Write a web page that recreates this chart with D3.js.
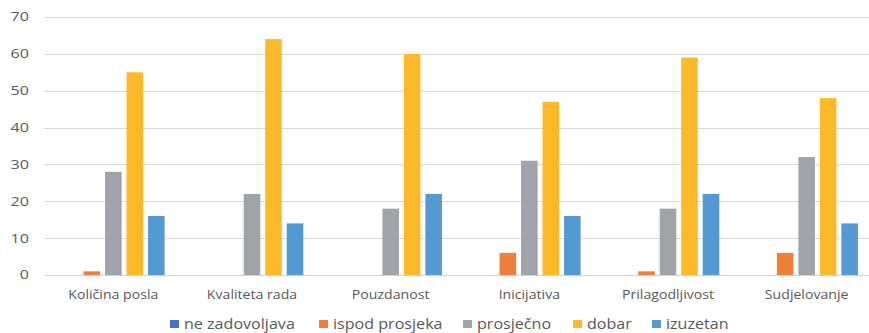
<!DOCTYPE html>
<html>
<head>
<meta charset="utf-8">
<script src="https://cdn.jsdelivr.net/npm/d3@7"></script>
<style>
  html, body { margin: 0; padding: 0; background: #fff; }
  svg { display: block; }
  text { font-family: "Open Sans", "Noto Sans", sans-serif; fill: #595959; }
</style>
</head>
<body>
<svg id="chart" width="869" height="333"></svg>
<script>
// Ocjene po kategorijama
const categories = ["Količina posla", "Kvaliteta rada", "Pouzdanost", "Inicijativa", "Prilagodljivost", "Sudjelovanje"];
const seriesNames = ["ne zadovoljava", "ispod prosjeka", "prosječno", "dobar", "izuzetan"];
const neZadovoljava = [0, 0, 0, 0, 0, 0];
const ispodProsjeka = [1, 0, 0, 6, 1, 6];
const prosjecno = [28, 22, 18, 31, 18, 32];
const dobar = [55, 64, 60, 47, 59, 48];
const izuzetan = [16, 14, 22, 16, 22, 14];
const yTicks = [0, 10, 20, 30, 40, 50, 60, 70];
const colors = ["#4472C4", "#F07F3A", "#A0A3A7", "#FDB92A", "#5499D3"];

const seriesValues = [neZadovoljava, ispodProsjeka, prosjecno, dobar, izuzetan];

// widen text horizontally around its anchor point
function widen(sel, sx) {
  sel.each(function () {
    const t = d3.select(this);
    const ax = +t.attr("x") || 0;
    t.attr("transform", `translate(${ax},0) scale(${sx},1) translate(${-ax},0)`);
  });
}

const svg = d3.select("#chart");
const margin = { left: 44, right: -7, top: 17, bottom: 58 };
const width = 869 - margin.left - margin.right;
const height = 333 - margin.top - margin.bottom;

const g = svg.append("g").attr("transform", `translate(${margin.left},${margin.top})`);

const x0 = d3.scaleBand().domain(categories).range([0, width]).paddingInner(0).paddingOuter(0);
const x1 = d3.scaleBand().domain(seriesNames).range([0, x0.bandwidth()])
  .paddingInner(0.23).paddingOuter(0.84);
const y = d3.scaleLinear().domain([0, 70]).range([height, 0]);

// gridlines
g.append("g")
  .selectAll("line")
  .data(yTicks)
  .join("line")
  .attr("x1", 0)
  .attr("x2", 869 - margin.left)
  .attr("y1", d => Math.round(y(d)) + 0.5)
  .attr("y2", d => Math.round(y(d)) + 0.5)
  .attr("stroke", d => d === 0 ? "#D0D0D0" : "#D9D9D9")
  .attr("stroke-width", 1);

// y axis labels
const yAxis = d3.axisLeft(y).tickValues(yTicks).tickSize(0).tickPadding(15);
g.append("g").call(yAxis)
  .call(s => s.select(".domain").remove())
  .selectAll("text")
  .attr("font-size", "12.2px")
  .style("font-family", "'Open Sans', sans-serif")
  .attr("fill", "#595959")
  .call(widen, 1.32);

// bars
const groups = g.append("g")
  .selectAll("g")
  .data(categories)
  .join("g")
  .attr("transform", d => `translate(${x0(d)},0)`);

groups.selectAll("rect")
  .data((c, ci) => seriesNames.map((s, si) => ({ s, si, v: seriesValues[si][ci] })))
  .join("rect")
  .filter(d => d.v > 0)
  .attr("x", d => x1(d.s))
  .attr("width", x1.bandwidth())
  .attr("y", d => y(d.v))
  .attr("height", d => y(0) - y(d.v))
  .attr("fill", d => colors[d.si]);

// category labels
const xAxis = d3.axisBottom(x0).tickSize(0).tickPadding(14.8);
g.append("g").attr("transform", `translate(0,${height})`).call(xAxis)
  .call(s => s.select(".domain").remove())
  .selectAll("text")
  .attr("font-size", "12.5px")
  .style("font-family", "'Open Sans', sans-serif")
  .attr("fill", "#595959")
  .call(widen, 1.13);

// legend
const legendX = [170, 319, 463, 573, 652];
const legend = svg.append("g");
const items = legend.selectAll("g")
  .data(seriesNames)
  .join("g")
  .attr("transform", (d, i) => `translate(${legendX[i]},320)`);
items.append("rect")
  .attr("width", 9).attr("height", 8)
  .attr("fill", (d, i) => colors[i]);
items.append("text")
  .attr("x", 14).attr("y", 9.3)
  .attr("font-size", "14px")
  .text(d => d)
  .call(widen, 1.15);
</script>
</body>
</html>
